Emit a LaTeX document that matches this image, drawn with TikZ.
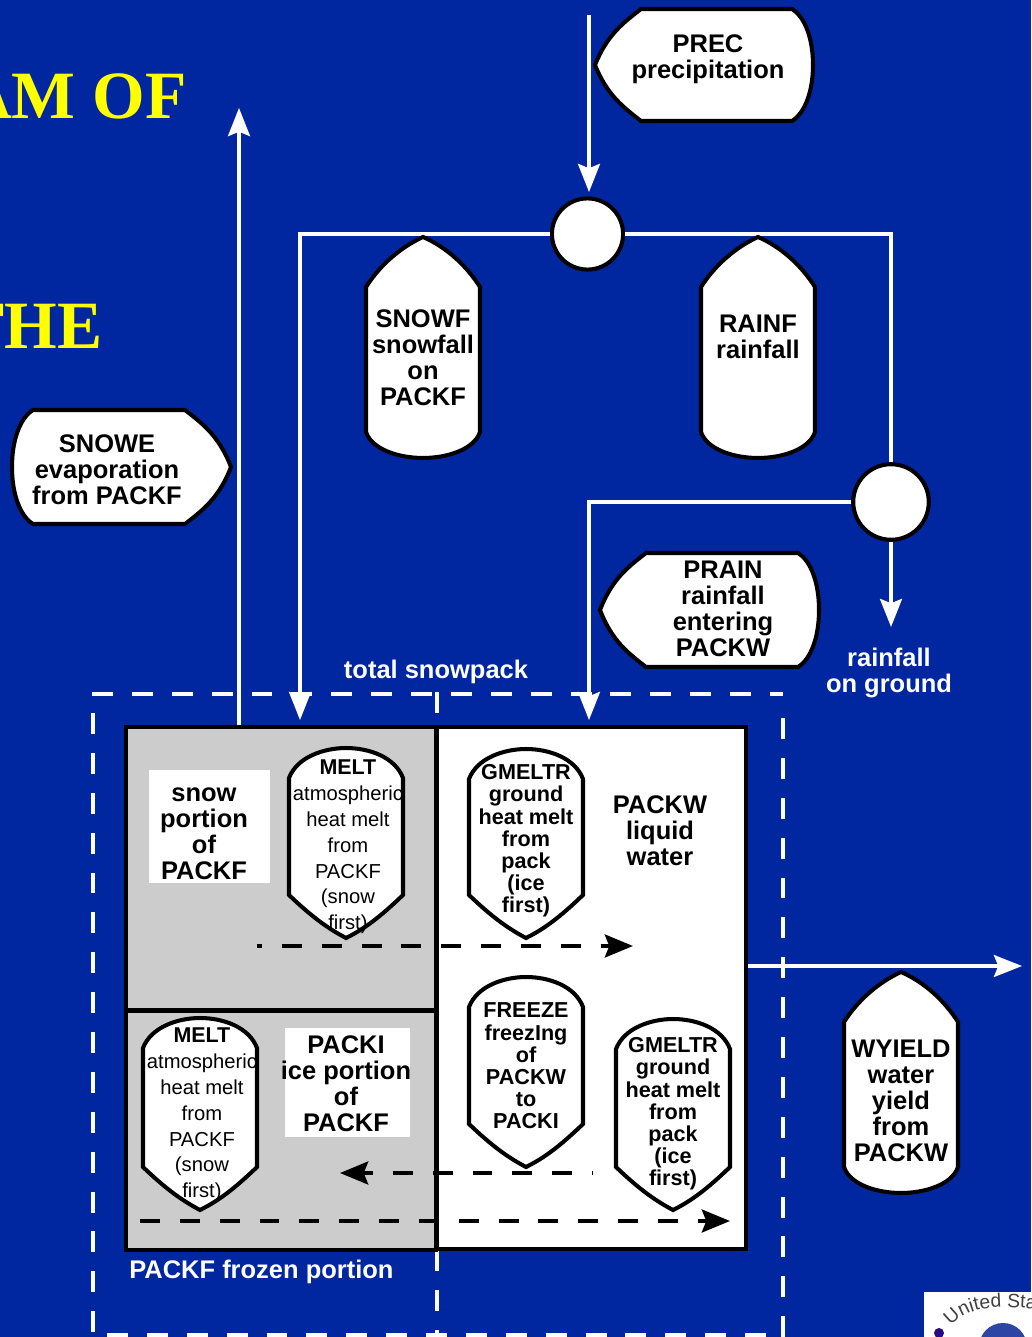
\documentclass[tikz,border=0pt]{standalone}
\usepackage{fontspec}
\setmainfont{Liberation Sans}
\newfontfamily\titlefont{Liberation Serif}
\usetikzlibrary{arrows.meta,decorations.text}
\definecolor{slideblue}{RGB}{0,39,160}
\definecolor{slideyellow}{RGB}{255,255,0}
\definecolor{panelgray}{RGB}{204,204,204}
\definecolor{logoblue}{RGB}{45,70,165}
\definecolor{logodot}{RGB}{40,10,130}
\tikzset{%
  wire/.style={%
    draw=white,
    line width=2pt
  },
  ptr/.style={%
    wire,
    -{Stealth[length=16pt,width=12.5pt,inset=2.5pt]}
  },
  flowdash/.style={%
    draw=black,
    line width=2.3pt,
    dash pattern=on 11.34pt off 11.34pt,
    -{Stealth[length=16pt,width=13pt,inset=2.5pt]}
  },
  boundary/.style={%
    draw=white,
    line width=2.3pt,
    dash pattern=on 11.9pt off 10.8pt
  },
  outline/.style={%
    draw=black,
    line width=2.3pt
  },
  bigtext/.style={%
    inner sep=0pt,
    align=center,
    font=\fontsize{14.5}{14.75}\selectfont\bfseries
  },
  midtext/.style={%
    inner sep=0pt,
    align=center,
    font=\fontsize{12.3}{12.65}\selectfont\bfseries
  },
  thintext/.style={%
    inner sep=0pt,
    align=center,
    xshift=1.1pt,
    font=\fontsize{11.5}{14.7}\selectfont
  },
  whitetext/.style={%
    bigtext,
    text=white
  },
  panel/.style={%
    outline,
    inner sep=0pt,
    anchor=north west
  },
  junction/.style={%
    outline,
    fill=white,
    circle,
    inner sep=0pt,
    minimum size=40.5pt
  }
}
% name, left, top, bottom, text height, text
\newcommand{\shieldbox}[6][midtext]{%
  \def\shieldpath{(#3,#4+30) .. controls (#3+8,#4+9) and (#3+35,#4) .. (#3+57,#4)
    .. controls (#3+80,#4) and (#3+106,#4+9) .. (#3+114,#4+30)
    -- (#3+114,#5-43) .. controls (#3+90,#5-20) and (#3+75,#5-9) .. (#3+57,#5)
    .. controls (#3+40,#5-9) and (#3+24,#5-20) .. (#3,#5-43) -- cycle}
  \fill[white] \shieldpath;
  \node[#1] (#2) at (#3+57,#6) {\shieldtext};
  \draw[outline] \shieldpath;
}
\newcommand{\pencilbox}[6][bigtext]{%
  \def\pencilpath{(#3,#4+50) .. controls (#3+14,#4+28) and (#3+35,#4+10) .. (#3+57,#4)
    .. controls (#3+80,#4+10) and (#3+100,#4+28) .. (#3+114,#4+50)
    -- (#3+114,#5-26) .. controls (#3+108,#5-8) and (#3+80,#5) .. (#3+57,#5)
    .. controls (#3+34,#5) and (#3+6,#5-8) .. (#3,#5-26) -- cycle}
  \fill[white] \pencilpath;
  \node[#1] (#2) at (#3+57,#6) {\shieldtext};
  \draw[outline] \pencilpath;
}
% name, tip, right, top, bottom, text centre
\newcommand{\leftbox}[6]{%
  \filldraw[outline,fill=white] (#2,#4/2+#5/2) .. controls (#2+12,#4+26) and (#2+28,#4+14) .. (#2+46,#4)
    -- (#3-21,#4) .. controls (#3-8,#4+8) and (#3,#4+30) .. (#3,#4/2+#5/2)
    .. controls (#3,#5-30) and (#3-8,#5-8) .. (#3-21,#5)
    -- (#2+46,#5) .. controls (#2+28,#5-14) and (#2+12,#5-26) .. cycle;
  \node[bigtext] (#1) at (#6) {\shieldtext};
}
\newcommand{\rightbox}[6]{%
  \filldraw[outline,fill=white] (#2,#4/2+#5/2) .. controls (#2-12,#4+26) and (#2-28,#4+14) .. (#2-46,#4)
    -- (#3+21,#4) .. controls (#3+8,#4+8) and (#3,#4+30) .. (#3,#4/2+#5/2)
    .. controls (#3,#5-30) and (#3+8,#5-8) .. (#3+21,#5)
    -- (#2-46,#5) .. controls (#2-28,#5-14) and (#2-12,#5-26) .. cycle;
  \node[bigtext] (#1) at (#6) {\shieldtext};
}
\begin{document}
\begin{tikzpicture}[x=0.02cm,y=-0.02cm]
    \useasboundingbox (0,0) rectangle (1031,1337);
    \clip (0,0) rectangle (1031,1337);
    \fill[slideblue] (0,0) rectangle (1031,1337);

    \node[anchor=east,text=slideyellow,inner sep=0pt,font=\titlefont\fontsize{38.5}{40}\selectfont\bfseries] (titleone) at (187,96) {AM OF};
    \node[anchor=east,text=slideyellow,inner sep=0pt,font=\titlefont\fontsize{38.5}{40}\selectfont\bfseries] (titletwo) at (103,326) {THE};

    % total snowpack limit
    \draw[boundary] (92,694) -- (783,694);
    \draw[boundary] (93,713) -- (93,1337);
    \draw[boundary] (783,718) -- (783,1337);
    \draw[boundary] (107,1335) -- (783,1335);
    \draw[boundary] (437,692) -- (437,1337);

    % the three parts of the pack
    \node[panel,fill=panelgray,minimum width=176.3pt,minimum height=161pt] (snowpart) at (124,725) {};
    \node[panel,fill=panelgray,minimum width=176.3pt,minimum height=136pt] (icepart) at (124,1009) {};
    \node[panel,fill=white,minimum width=175.7pt,minimum height=297pt] (waterpart) at (435,725) {};

    % connectors
    \coordinate (precstart) at (589,15);
    \coordinate (prectip) at (589,192);
    \coordinate (snowtip) at (300,720);
    \coordinate (raintip) at (589,720);
    \coordinate (groundtip) at (891,627);
    \coordinate (evaptip) at (239,108);
    \coordinate (yieldtip) at (1022,966);
    \node[junction] (splitprec) at (587.5,234) {};
    \node[junction,minimum size=43pt] (splitrain) at (891,502) {};
    \draw[ptr] (precstart) -- (prectip);
    \draw[ptr] (splitprec) -| (snowtip);
    \draw[wire] (splitprec) -| (splitrain);
    \draw[ptr] (splitrain) -| (raintip);
    \draw[ptr] (splitrain) -- (groundtip);
    \draw[ptr] (snowpart.north -| evaptip) -- (evaptip);
    \draw[ptr] (waterpart.east |- yieldtip) -- (yieldtip);

    % process boxes
    \def\shieldtext{PREC\\precipitation}
    \leftbox{prec}{595}{813}{9}{121}{708,59}
    \def\shieldtext{SNOWE\\evaporation\\from PACKF}
    \rightbox{snowe}{231}{12}{410}{524}{107,470}
    \def\shieldtext{PRAIN\\rainfall\\entering\\PACKW}
    \leftbox{prain}{600}{819}{553}{667}{723,609}
    \def\shieldtext{SNOWF\\snowfall\\on\\PACKF}
    \pencilbox{snowf}{366}{237}{458}{358}
    \def\shieldtext{RAINF\\rainfall}
    \pencilbox{rainf}{701}{237}{458}{337}
    \def\shieldtext{WYIELD\\water\\yield\\from\\PACKW}
    \pencilbox{wyield}{844}{972}{1193}{1101}

    \node[fill=white,minimum width=68.6pt,minimum height=64pt,inner sep=0pt] (snowlabelbg) at (209.5,826.5) {};
    \node[bigtext] (snowlabel) at (204,834) {snow\\portion\\of\\PACKF};
    \node[fill=white,minimum width=70.9pt,minimum height=61.8pt,inner sep=0pt] (icelabelbg) at (347.5,1082.5) {};
    \node[bigtext] (icelabel) at (346,1084) {PACKI\\ice portion\\of\\PACKF};
    \node[bigtext] (waterlabel) at (660,831) {PACKW\\liquid\\water};

    \def\shieldtext{{\fontsize{12.2}{14.7}\selectfont\bfseries MELT}\\atmospheric\\heat melt\\from\\PACKF\\(snow\\first)}
    \shieldbox[thintext]{meltsnow}{289}{748}{938}{847}
    \shieldbox[thintext]{melt_ice}{143}{1018}{1210}{1115}
    \def\shieldtext{GMELTR\\ground\\heat melt\\from\\pack\\(ice\\first)}
    \shieldbox{gmeltone}{469}{749}{938}{841}
    \shieldbox{gmelttwo}{616}{1019}{1210}{1114}
    \def\shieldtext{FREEZE\\freezIng\\of\\PACKW\\to\\PACKI}
    \shieldbox{freeze}{469}{977}{1167}{1066}

    % movement of water and ice in the pack
    \coordinate (meltstart) at (257,946);
    \coordinate (melttip) at (633,946);
    \coordinate (freezestart) at (593,1173);
    \coordinate (freezetip) at (340,1173);
    \coordinate (gmeltstart) at (140,1221);
    \coordinate (gmelttip) at (730,1221);
    \draw[flowdash,dash phase=8.5pt] (meltstart) -- (melttip);
    \draw[flowdash,dash phase=10.8pt] (freezestart) -- (freezetip);
    \draw[flowdash] (gmeltstart) -- (gmelttip);

    % free labels
    \node[whitetext] (snowpacklabel) at (436,672) {total snowpack};
    \node[whitetext] (groundlabel) at (889,673) {rainfall\\on ground};
    \node[whitetext,anchor=west] (frozenlabel) at (129,1272) {PACKF frozen portion};

    % corner of the logo
    \node[anchor=north west,fill=white,minimum width=60.7pt,minimum height=25.5pt,inner sep=0pt] (logo) at (924,1292) {};
    \fill[logoblue] (1003,1347) circle (24);
    \fill[logodot] (939,1333) circle (5);
    \path[decorate,decoration={text along path,text align=left,text={|\fontsize{11}{11}\selectfont\color{black!75}|United Sta}}] (951,1326) .. controls (966,1308) and (990,1304) .. (1045,1310);
  \end{tikzpicture}
\end{document}
